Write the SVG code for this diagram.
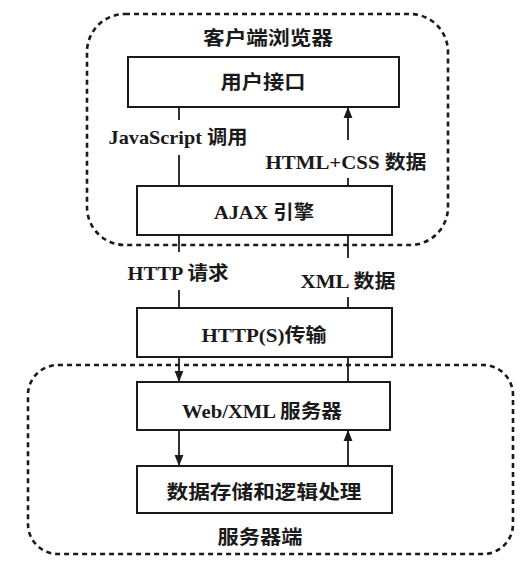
<svg xmlns="http://www.w3.org/2000/svg" width="523" height="568" viewBox="0 0 523 568">
<defs>
<style>
.region{fill:none;stroke:#1a1a1a;stroke-width:2.6;stroke-dasharray:5 4;}
.box{fill:#fff;stroke:#1a1a1a;stroke-width:2;}
.t{font-family:"Liberation Serif","Noto Sans CJK SC",serif;font-size:19px;font-weight:bold;fill:#1a1a1a;text-anchor:middle;}
.ln{stroke:#1a1a1a;stroke-width:1.8;fill:none;}
</style>
<marker id="ah" viewBox="0 0 10 10" refX="9" refY="5" markerWidth="7" markerHeight="7" orient="auto" markerUnits="userSpaceOnUse">
<path d="M0,1 L10,5 L0,9 Z" fill="#1a1a1a"/>
</marker>
<marker id="ahb" viewBox="0 0 10 10" refX="9" refY="5" markerWidth="11" markerHeight="11" orient="auto" markerUnits="userSpaceOnUse">
<path d="M0,1 L10,5 L0,9 Z" fill="#1a1a1a"/>
</marker>
</defs>
<rect width="523" height="568" fill="#fff"/>
<g id="client-region">
<rect class="region" x="87" y="14" width="361" height="231" rx="38"/>
<text class="t" x="268" y="45" textLength="130" lengthAdjust="spacingAndGlyphs">客户端浏览器</text>
</g>
<g id="server-region">
<rect class="region" x="28" y="365" width="485" height="189" rx="30"/>
<text class="t" x="260" y="544" textLength="85" lengthAdjust="spacingAndGlyphs">服务器端</text>
</g>
<g id="connectors">
<line class="ln" x1="179" y1="107" x2="179" y2="120"/>
<line class="ln" x1="179" y1="155" x2="179" y2="186"/>
<line class="ln" x1="348" y1="140" x2="348" y2="108" marker-end="url(#ahb)"/>
<line class="ln" x1="348" y1="178" x2="348" y2="186"/>
<line class="ln" x1="179" y1="235" x2="179" y2="252"/>
<line class="ln" x1="179" y1="290" x2="179" y2="308"/>
<line class="ln" x1="348" y1="235" x2="348" y2="258"/>
<line class="ln" x1="348" y1="297" x2="348" y2="308"/>
<line class="ln" x1="179" y1="357" x2="179" y2="381" marker-end="url(#ahb)"/>
<line class="ln" x1="348" y1="357" x2="348" y2="382"/>
<line class="ln" x1="179" y1="430" x2="179" y2="465" marker-end="url(#ahb)"/>
<line class="ln" x1="348" y1="466" x2="348" y2="431" marker-end="url(#ahb)"/>
<text class="t" x="178" y="144" textLength="139" lengthAdjust="spacingAndGlyphs">JavaScript 调用</text>
<text class="t" x="346" y="169" textLength="161" lengthAdjust="spacingAndGlyphs">HTML+CSS 数据</text>
<text class="t" x="178" y="280" textLength="101" lengthAdjust="spacingAndGlyphs">HTTP 请求</text>
<text class="t" x="348" y="288" textLength="95" lengthAdjust="spacingAndGlyphs">XML 数据</text>
</g>
<g id="node-ui">
<rect class="box" x="128" y="57" width="271" height="50"/>
<text class="t" x="263" y="89" textLength="85" lengthAdjust="spacingAndGlyphs">用户接口</text>
</g>
<g id="node-ajax">
<rect class="box" x="137" y="186" width="255" height="49"/>
<text class="t" x="264" y="219" textLength="100" lengthAdjust="spacingAndGlyphs">AJAX 引擎</text>
</g>
<g id="node-http">
<rect class="box" x="137" y="308" width="255" height="49"/>
<text class="t" x="264" y="342" textLength="125" lengthAdjust="spacingAndGlyphs">HTTP(S)传输</text>
</g>
<g id="node-web">
<rect class="box" x="137" y="382" width="253" height="48"/>
<text class="t" x="262" y="418" textLength="160" lengthAdjust="spacingAndGlyphs">Web/XML 服务器</text>
</g>
<g id="node-data">
<rect class="box" x="137" y="466" width="255" height="47"/>
<text class="t" x="264" y="499" textLength="195" lengthAdjust="spacingAndGlyphs">数据存储和逻辑处理</text>
</g>
</svg>
